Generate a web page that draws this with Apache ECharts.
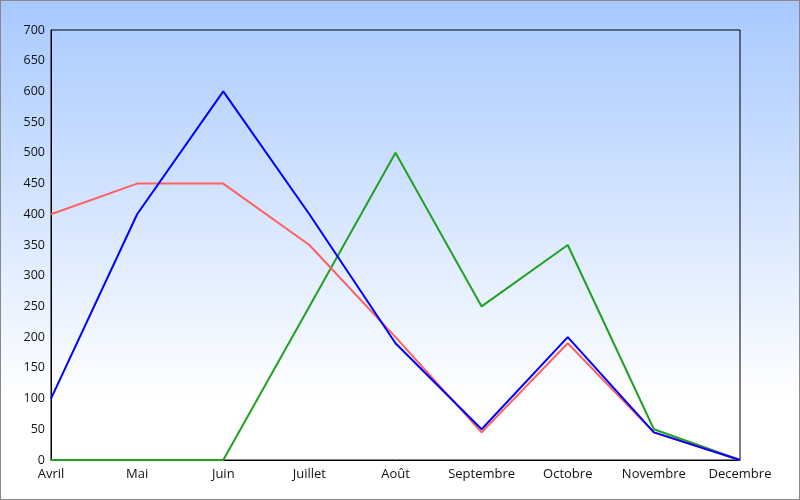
<!DOCTYPE html>
<html><head><meta charset="utf-8">
<script src="https://cdn.jsdelivr.net/npm/echarts@6/dist/echarts.min.js"></script>
<style>html,body{margin:0;padding:0;overflow:hidden;}#c{width:798px;height:498px;border:1px solid #888;}</style>
</head><body><div id="c"></div>
<script>
var categories = ['Avril','Mai','Juin','Juillet','Août','Septembre','Octobre','Novembre','Decembre'];
var redValues = [400,450,450,350,200,45,190,45,0];
var blueValues = [100,400,600,400,190,50,200,45,0];
var greenValues = [0,0,0,250,500,250,350,50,0];

var chart = echarts.init(document.getElementById('c'), null, {width:798, height:498});
var font = '"Open Sans", sans-serif';
function mk(name, data, color){
  return {name:name,type:'line',data:data,symbol:'none',lineStyle:{color:color,width:2},itemStyle:{color:color},animation:false};
}
chart.setOption({
  animation:false,
  backgroundColor:{type:'linear',x:0,y:0,x2:0,y2:1,colorStops:[{offset:0,color:'#a8c9ff'},{offset:0.8,color:'#ffffff'},{offset:1,color:'#ffffff'}]},
  grid:{left:50,right:59,top:29,bottom:39,show:true,borderColor:'#000',borderWidth:1,backgroundColor:'transparent'},
  xAxis:{type:'category',data:categories,boundaryGap:false,
    axisLine:{lineStyle:{color:'#000'}},axisTick:{show:false},
    axisLabel:{color:'#111',fontFamily:font,fontSize:13,margin:8,interval:0},splitLine:{show:false}},
  yAxis:{type:'value',min:0,max:700,interval:50,
    axisLine:{show:true,lineStyle:{color:'#000'}},axisTick:{show:false},
    axisLabel:{color:'#111',fontFamily:font,fontSize:12.5,margin:6},splitLine:{show:false}},
  series:[mk('Green',greenValues,'#22a022'),mk('Red',redValues,'#ff6060'),mk('Blue',blueValues,'#0000ff')]
});
</script>
</body></html>
